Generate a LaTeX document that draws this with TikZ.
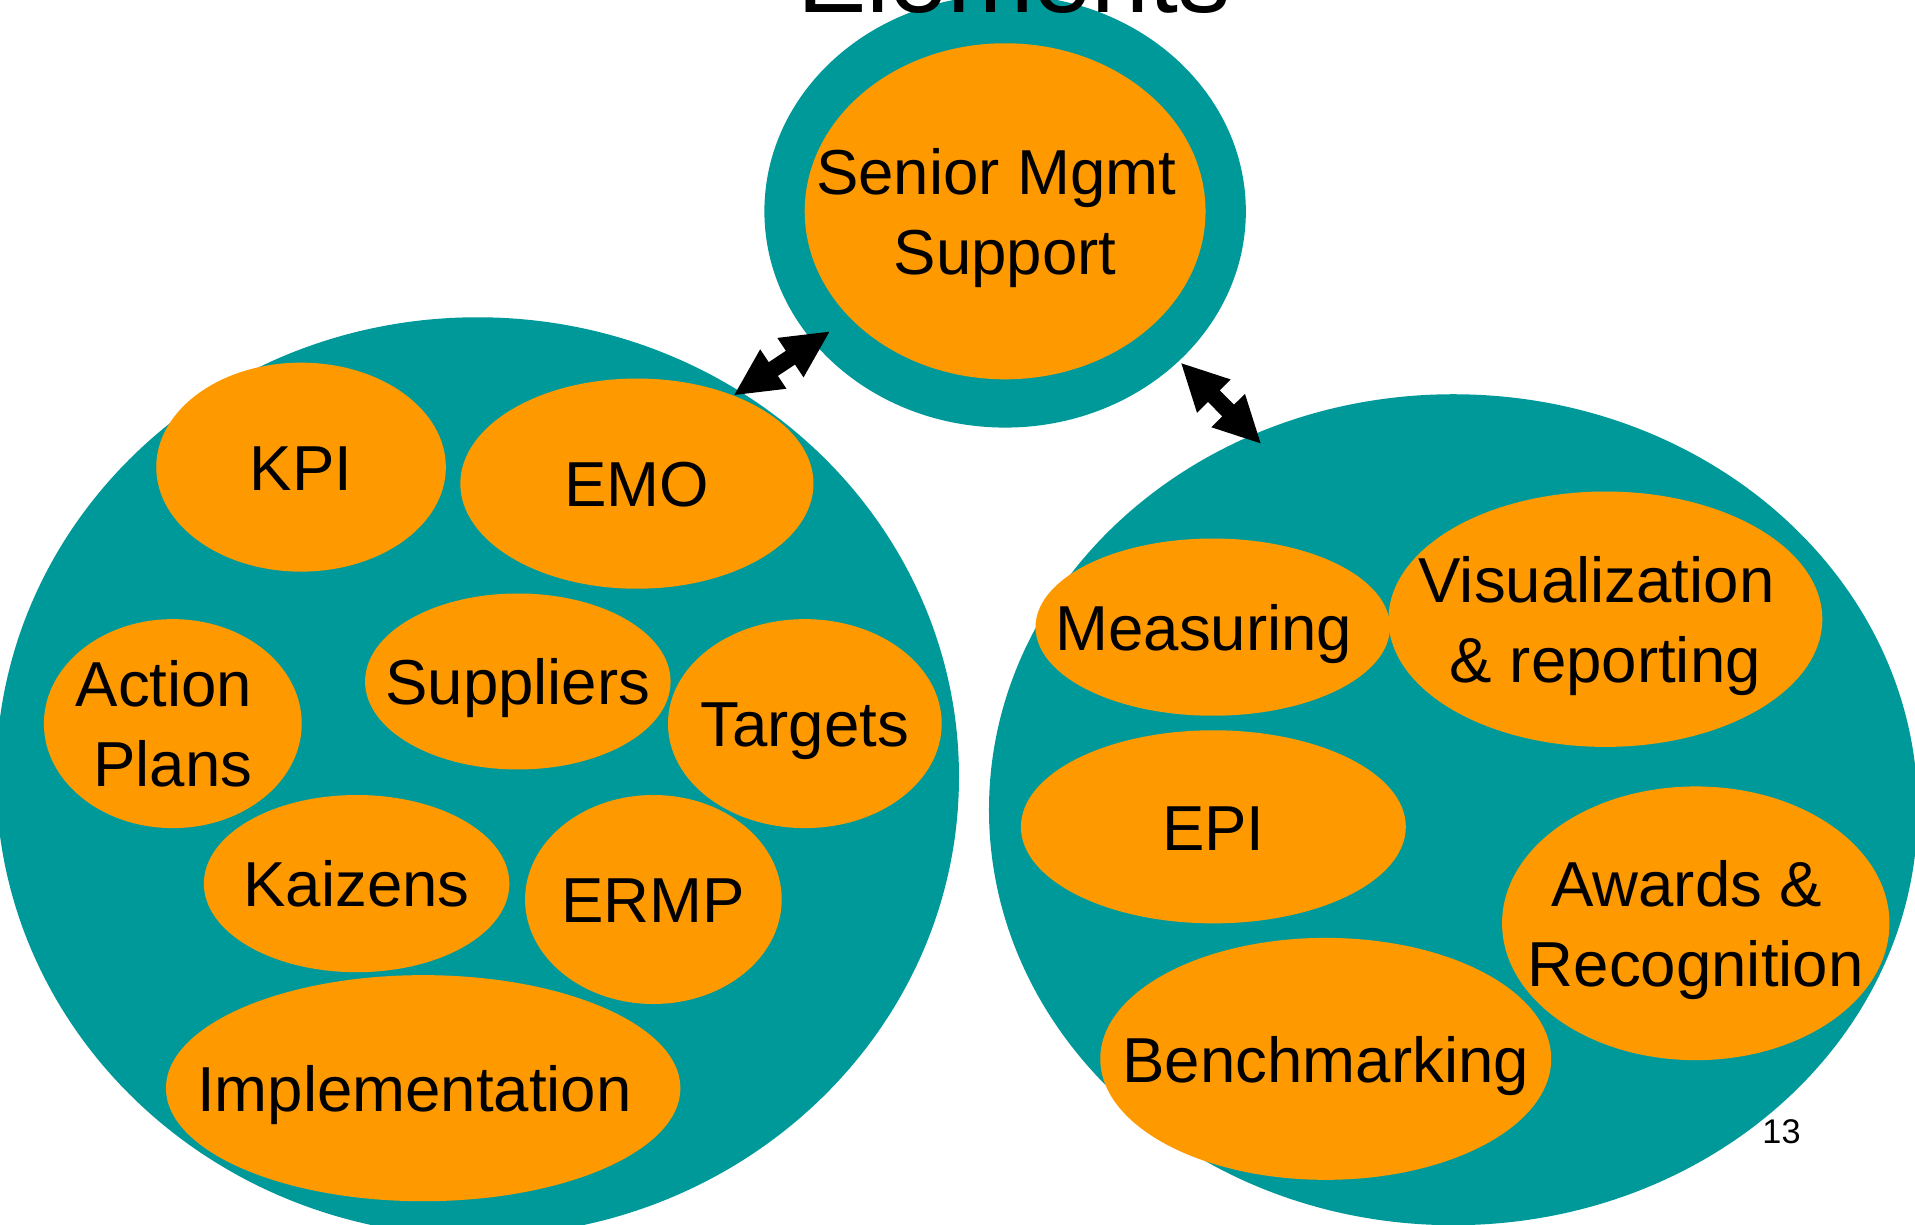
\documentclass[tikz,border=0pt]{standalone}
\usepackage{fontspec}
\setmainfont{Liberation Sans}
\usetikzlibrary{shapes.geometric,calc}
\definecolor{tealc}{RGB}{0,153,153}
\definecolor{orangec}{RGB}{255,153,0}
\newcommand\ls{\rule[-0.12cm]{0pt}{0.62cm}}
\newcommand\tsp{\rule{0.278em}{0pt}}
\newcommand\dblarrow[2]{%
  \fill[black] (#1)
   -- ($(#1)!0.41!(#2)!0.194cm!90:(#2)$)
   -- ($(#1)!0.41!(#2)!0.0675cm!90:(#2)$)
   -- ($(#1)!0.59!(#2)!0.0675cm!90:(#2)$)
   -- ($(#1)!0.59!(#2)!0.194cm!90:(#2)$)
   -- (#2)
   -- ($(#1)!0.59!(#2)!0.194cm!-90:(#2)$)
   -- ($(#1)!0.59!(#2)!0.0675cm!-90:(#2)$)
   -- ($(#1)!0.41!(#2)!0.0675cm!-90:(#2)$)
   -- ($(#1)!0.41!(#2)!0.194cm!-90:(#2)$)
   -- cycle;}
\tikzset{
  tealblob/.style={ellipse, fill=tealc, draw=none, inner sep=0pt, outer sep=0pt},
  orangeblob/.style={ellipse, fill=orangec, draw=none, inner sep=0pt, outer sep=0pt},
  txt/.style={font=\fontsize{14.8pt}{17.64pt}\selectfont, align=center, inner sep=0pt, text=black},
}
\begin{document}
\begin{tikzpicture}[x=0.01cm, y=-0.01cm]
\useasboundingbox (0,0) rectangle (1568,1003);
\clip (0,0) rectangle (1568,1003);
% large teal groups
\node[tealblob, minimum width=3.94cm, minimum height=3.54cm] (topT) at (823,173) {};
\node[tealblob, minimum width=7.88cm, minimum height=7.52cm] (leftT) at (391,636) {};
\node[tealblob, minimum width=7.60cm, minimum height=6.80cm] (rightT) at (1190,663) {};
% orange elements
\node[orangeblob, minimum width=3.28cm, minimum height=2.75cm] (senior) at (823,173) {};
\node[orangeblob, minimum width=2.37cm, minimum height=1.71cm] (kpi) at (246.5,382.5) {};
\node[orangeblob, minimum width=2.89cm, minimum height=1.72cm] (emo) at (521.5,396) {};
\node[orangeblob, minimum width=2.11cm, minimum height=1.71cm] (action) at (141.5,592.5) {};
\node[orangeblob, minimum width=2.50cm, minimum height=1.44cm] (suppliers) at (424,558) {};
\node[orangeblob, minimum width=2.24cm, minimum height=1.71cm] (targets) at (659,592.5) {};
\node[orangeblob, minimum width=2.50cm, minimum height=1.45cm] (kaizens) at (292,723.5) {};
\node[orangeblob, minimum width=2.10cm, minimum height=1.71cm] (ermp) at (535,736.5) {};
\node[orangeblob, minimum width=4.21cm, minimum height=1.85cm] (impl) at (346.5,891) {};
\node[orangeblob, minimum width=2.90cm, minimum height=1.45cm] (measuring) at (993,513.5) {};
\node[orangeblob, minimum width=3.55cm, minimum height=2.09cm] (visual) at (1314.5,507) {};
\node[orangeblob, minimum width=3.15cm, minimum height=1.58cm] (epi) at (993.5,677) {};
\node[orangeblob, minimum width=3.17cm, minimum height=2.24cm] (awards) at (1388.5,756) {};
\node[orangeblob, minimum width=3.69cm, minimum height=1.98cm] (bench) at (1085.5,867) {};
% labels
\node[txt] (senior-t) at (senior) {\ls Senior Mgmt\tsp\\\ls Support};
\node[txt] (kpi-t) at (kpi) {\ls KPI};
\node[txt] (emo-t) at (emo) {\ls EMO};
\node[txt] (action-t) at (action) {\ls Action\tsp\\\ls Plans};
\node[txt] (suppliers-t) at (suppliers) {\ls Suppliers};
\node[txt] (targets-t) at (targets) {\ls Targets};
\node[txt] (kaizens-t) at (kaizens) {\ls Kaizens};
\node[txt] (ermp-t) at (ermp) {\ls ERMP};
\node[txt] (impl-t) at (impl) {\ls Implementation\tsp};
\node[txt] (measuring-t) at (measuring) {\ls Measuring\tsp};
\node[txt] (visual-t) at (visual) {\ls Visualization\tsp\\\ls \& reporting};
\node[txt] (epi-t) at (epi) {\ls EPI};
\node[txt] (awards-t) at (awards) {\ls Awards \&\tsp\\\ls Recognition};
\node[txt] (bench-t) at (bench) {\ls Benchmarking};
% block double arrows
\coordinate (la1) at (601.3,323.4);
\coordinate (la2) at (679.1,271.6);
\coordinate (ra1) at (967.3,297.5);
\coordinate (ra2) at (1032.2,363);
\dblarrow{la1}{la2}
\dblarrow{ra1}{ra2}
% title (cut off at top) and page number
\node[font=\fontsize{24.2pt}{29pt}\selectfont, anchor=base, inner sep=0pt] (title) at (830,10) {Elements};
\node[font=\fontsize{7.97pt}{9.5pt}\selectfont, anchor=base, inner sep=0pt] (pagenum) at (1458.7,936.7) {13};
\end{tikzpicture}
\end{document}
